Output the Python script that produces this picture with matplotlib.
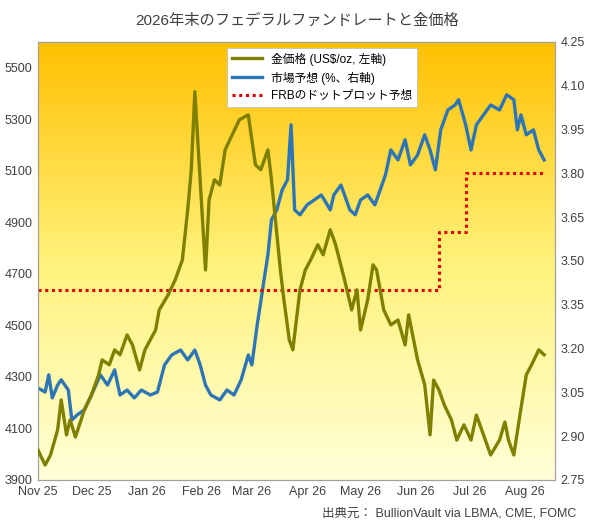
import numpy as np
import pandas as pd
import matplotlib
matplotlib.use('Agg')
import matplotlib.pyplot as plt
import matplotlib.dates as mdates

plt.rcParams['font.family'] = ['Liberation Sans', 'Noto Sans CJK JP', 'DejaVu Sans']

START = pd.Timestamp('2025-11-01')

# gold price (US$/oz), days since 2025-11-01
gold_day = [0, 4, 7, 11, 13, 16, 18, 21, 26, 30, 34, 36, 40, 43, 46, 50, 53, 57, 60, 63,
            66, 68, 73, 77, 81, 84, 86, 88, 94, 96, 99, 102, 105, 109, 113, 118, 122, 125,
            129, 131, 136, 138, 141, 143, 147, 150, 153, 157, 160, 164, 167, 172, 176, 179,
            181, 185, 188, 190, 194, 198, 202, 206, 208, 213, 217, 220, 222, 225, 228, 232,
            235, 239, 243, 246, 250, 254, 259, 262, 264, 267, 270, 274, 277, 281, 284]
gold_val = [4016, 3958, 3997, 4094, 4211, 4075, 4133, 4067, 4172, 4230, 4308, 4366, 4347,
            4405, 4386, 4463, 4424, 4327, 4405, 4444, 4482, 4560, 4618, 4677, 4754, 4948,
            5104, 5407, 4715, 4987, 5065, 5045, 5181, 5240, 5298, 5317, 5123, 5104, 5181,
            5065, 4715, 4599, 4444, 4405, 4638, 4715, 4754, 4813, 4774, 4871, 4813, 4677,
            4560, 4638, 4482, 4599, 4735, 4715, 4560, 4502, 4521, 4424, 4541, 4366, 4269,
            4075, 4288, 4249, 4191, 4133, 4055, 4114, 4055, 4152, 4075, 3997, 4055, 4125,
            4055, 3997, 4133, 4308, 4347, 4405, 4386]

# market-implied end-2026 fed funds rate (%)
rate_day = [0, 4, 6, 8, 11, 13, 17, 19, 22, 26, 30, 35, 39, 43, 46, 50, 54, 58, 63, 67,
            71, 75, 80, 84, 88, 91, 94, 97, 102, 106, 110, 114, 118, 120, 123, 126, 129,
            131, 134, 137, 140, 142, 144, 147, 151, 155, 159, 164, 166, 170, 175, 178, 181,
            185, 189, 192, 195, 198, 202, 206, 209, 213, 217, 220, 223, 226, 230, 234, 236,
            240, 243, 246, 250, 254, 259, 263, 267, 269, 271, 274, 278, 281, 284]
rate_val = [3.065, 3.051, 3.110, 3.031, 3.075, 3.093, 3.058, 2.955, 2.973, 2.990, 3.041,
            3.110, 3.075, 3.127, 3.041, 3.058, 3.031, 3.058, 3.041, 3.051, 3.144, 3.178,
            3.195, 3.161, 3.195, 3.144, 3.075, 3.041, 3.024, 3.058, 3.041, 3.093, 3.178,
            3.144, 3.281, 3.401, 3.521, 3.641, 3.675, 3.743, 3.778, 3.966, 3.675, 3.658,
            3.692, 3.709, 3.726, 3.675, 3.726, 3.760, 3.675, 3.658, 3.709, 3.726, 3.692,
            3.743, 3.795, 3.880, 3.846, 3.915, 3.829, 3.863, 3.932, 3.880, 3.812, 3.949,
            4.017, 4.034, 4.052, 3.966, 3.880, 3.966, 4.000, 4.034, 4.017, 4.069, 4.052,
            3.949, 4.000, 3.932, 3.949, 3.880, 3.846]

# FOMC dot plot median for end-2026
dot_day = [0, 225, 225, 240, 240, 284]
dot_val = [3.40, 3.40, 3.60, 3.60, 3.80, 3.80]

gd = START + pd.to_timedelta(gold_day, unit='D')
rd = START + pd.to_timedelta(rate_day, unit='D')
dd = START + pd.to_timedelta(dot_day, unit='D')

fig = plt.figure(figsize=(5.94, 5.24), dpi=100)
ax = fig.add_axes([0.064, 0.084, 0.870, 0.836])
ax2 = ax.twinx()

# yellow gradient background, drawn on the back axes
grad = np.linspace(0, 1, 256).reshape(-1, 1)
cm = matplotlib.colors.LinearSegmentedColormap.from_list('g', ['#FFFFD8', '#FFF27A', '#FFC000'])
ax2.imshow(grad, cmap=cm, aspect='auto', extent=[0, 1, 0, 1], transform=ax2.transAxes,
           origin='lower', zorder=0)

l1, = ax.plot(gd, gold_val, color='#7F7F00', lw=2.4, zorder=3, label='金価格 (US$/oz, 左軸)')
l2, = ax2.plot(rd, rate_val, color='#2E75B6', lw=2.4, label='市場予想 (%、右軸)')
l3, = ax2.plot(dd, dot_val, color='#E00000', lw=2.2, ls=(0, (1, 1.2)), label='FRBのドットプロット予想')

ax.set_ylim(3900, 5600)
ax.set_yticks(range(3900, 5600, 200))
ax2.set_ylim(2.75, 4.25)
ax2.set_yticks(np.arange(2.75, 4.26, 0.15))
ax2.yaxis.set_major_formatter(matplotlib.ticker.FormatStrFormatter('%.2f'))
for a in (ax, ax2):
    a.set_xlim(START, START + pd.Timedelta(days=290))
ax.xaxis.set_major_locator(mdates.MonthLocator())
ax.xaxis.set_major_formatter(mdates.DateFormatter('%b %y'))

for a in (ax, ax2):
    a.tick_params(labelsize=9, colors='#404040', length=0, pad=4)
    for s in a.spines.values():
        s.set_color('#A0A0A0')

ax.set_zorder(ax2.get_zorder() + 1)
ax.patch.set_visible(False)

leg = ax.legend(handles=[l1, l2, l3], loc='upper center', bbox_to_anchor=(0.55, 1.0),
                fontsize=8.5, frameon=True, fancybox=False, edgecolor='#C0C0C0',
                facecolor='white', framealpha=1, handlelength=2.5)
leg.get_frame().set_linewidth(0.6)

fig.suptitle('2026年末のフェデラルファンドレートと金価格', y=0.975, fontsize=11, color='#404040')
fig.text(0.97, 0.015, '出典元： BullionVault via LBMA, CME, FOMC', ha='right', fontsize=9,
         color='#404040')

fig.savefig('out.png', dpi=100)
